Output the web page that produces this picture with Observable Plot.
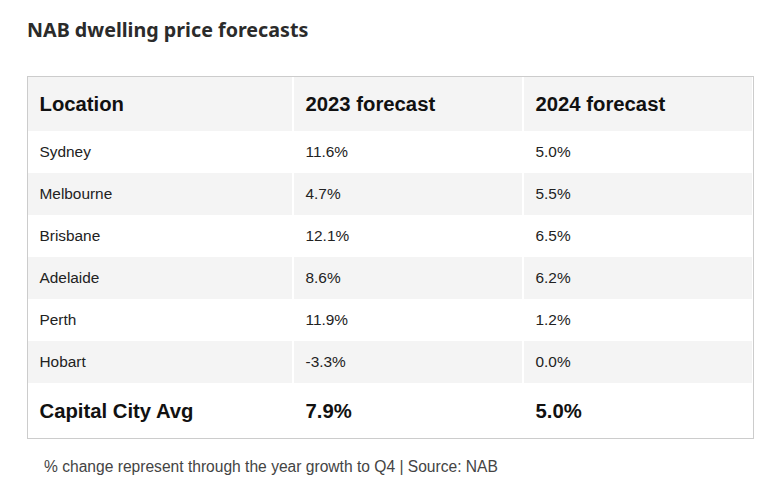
<!DOCTYPE html>
<html>
<head>
<meta charset="utf-8">
<script src="https://cdn.jsdelivr.net/npm/d3@7"></script>
<script src="https://cdn.jsdelivr.net/npm/@observablehq/plot@0.6"></script>
<style>
  html, body { margin: 0; padding: 0; background: #fff; }
  #wrap { width: 767px; height: 497px; position: relative; overflow: hidden; }
  #title { box-sizing: border-box; height: 62px; padding: 17px 0 0 27px; font-family: "Noto Sans", sans-serif; font-weight: bold; font-size: 19.7px; line-height: 26px; color: #2b2b2b; }
  #chart svg { display: block; }
  #caption { padding: 5px 0 0 44px; font-family: "Liberation Sans", Arial, sans-serif; font-size: 15.6px; line-height: 20px; color: #444; }
</style>
</head>
<body>
<div id="wrap">
  <div id="title">NAB dwelling price forecasts</div>
  <div id="chart"></div>
  <div id="caption">% change represent through the year growth to Q4 | Source: NAB</div>
</div>
<script>
// ---- data ----
const headers = ["Location", "2023 forecast", "2024 forecast"];
const locations = ["Sydney", "Melbourne", "Brisbane", "Adelaide", "Perth", "Hobart"];
const forecast2023 = ["11.6%", "4.7%", "12.1%", "8.6%", "11.9%", "-3.3%"];
const forecast2024 = ["5.0%", "5.5%", "6.5%", "6.2%", "1.2%", "0.0%"];
const totalLabel = "Capital City Avg";
const total2023 = "7.9%";
const total2024 = "5.0%";

// ---- layout (table geometry, in plot units) ----
const colWidths = [264, 228, 228];
const colGap = 2;
const headerH = 54, rowH = 42, footH = 55;
const pad = 11;

const colStarts = [];
{ let x = 1; for (const w of colWidths) { colStarts.push(x); x += w + colGap; } }
const totalW = colStarts[2] + colWidths[2] + 1;

// build rows
const rows = [];
rows.push({kind: "header", cells: headers});
locations.forEach((loc, i) => rows.push({kind: "body", cells: [loc, forecast2023[i], forecast2024[i]]}));
rows.push({kind: "total", cells: [totalLabel, total2023, total2024]});

let yPos = 1;
rows.forEach((r, i) => {
  const h = r.kind === "header" ? headerH : r.kind === "total" ? footH : rowH;
  r.y1 = yPos; r.y2 = yPos + h; yPos += h;
  r.grey = r.kind === "header" || (r.kind === "body" && i % 2 === 0);
});
const totalH = yPos;

const cells = [];
rows.forEach((r, ri) => r.cells.forEach((text, ci) => cells.push({
  text, kind: r.kind, grey: r.grey,
  x1: colStarts[ci], x2: colStarts[ci] + colWidths[ci],
  y1: r.y1, y2: r.y2, ym: (r.y1 + r.y2) / 2, xt: colStarts[ci] + pad
})));

const W = 767, H = 390;
const mL = 27, mT = 14;
const mR = W - mL - totalW, mB = H - mT - totalH;

const font = "'Liberation Sans', Arial, sans-serif";
const plot = Plot.plot({
  width: W, height: H,
  marginLeft: mL, marginRight: mR, marginTop: mT, marginBottom: mB,
  x: {type: "linear", domain: [0, totalW], axis: null},
  y: {type: "linear", domain: [0, totalH], reverse: true, axis: null},
  style: {fontFamily: font, background: "#fff"},
  marks: [
    Plot.rect(cells.filter(d => d.grey), {x1: "x1", x2: "x2", y1: "y1", y2: "y2", fill: "#f4f4f4", inset: 0}),
    Plot.frame({stroke: "#cccccc", strokeWidth: 1}),
    Plot.text(cells.filter(d => d.kind === "header"), {x: "xt", y: "ym", text: "text", textAnchor: "start", lineAnchor: "middle", fontSize: 20.3, fontWeight: "bold", fill: "#111"}),
    Plot.text(cells.filter(d => d.kind === "body"), {x: "xt", y: "ym", text: "text", textAnchor: "start", lineAnchor: "middle", fontSize: 15.4, fill: "#222"}),
    Plot.text(cells.filter(d => d.kind === "total"), {x: "xt", y: "ym", text: "text", textAnchor: "start", lineAnchor: "middle", fontSize: 20.3, fontWeight: "bold", fill: "#111"})
  ]
});
document.getElementById("chart").appendChild(plot);
</script>
</body>
</html>
